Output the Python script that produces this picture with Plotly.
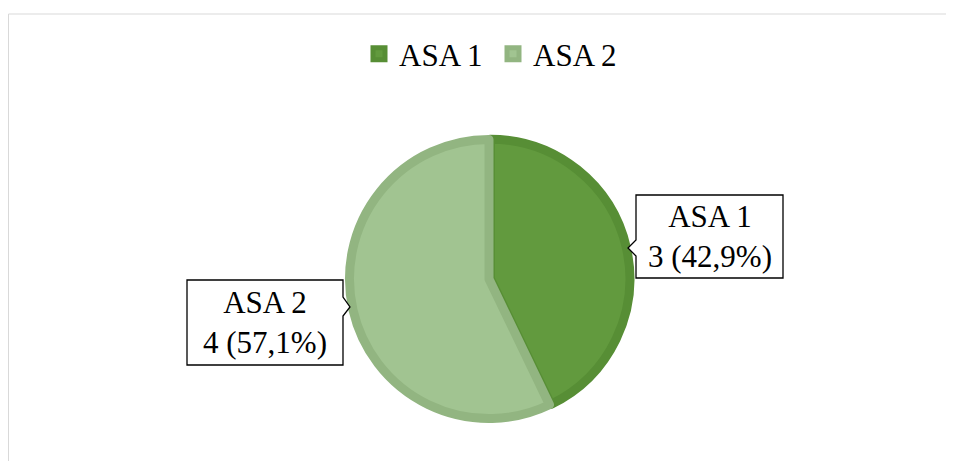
import plotly.graph_objects as go

# ---- data ----
labels = ["ASA 1", "ASA 2"]
values = [3, 4]
fill_colors = ["#629A3E", "#A1C491"]
line_colors = ["#578E35", "#92B581"]

OFF = 8  # page body margin
W, H = 954 - OFF, 469 - 2 * OFF
FONT = "Liberation Serif, Times New Roman, serif"


def px(x):
    return (x - OFF) / W


def py(y):
    return 1 - (y - OFF) / H


total = sum(values)
pcts = [v / total * 100 for v in values]
texts = [f"{l}<br>{v} ({p:.1f}%)".replace(".", ",") for l, v, p in zip(labels, values, pcts)]

pull = [0.01, 0]
cx, cy, r = 489, 279, 139.5
rr = r * (1 + max(pull))

fig = go.Figure(go.Pie(
    labels=labels,
    values=values,
    sort=False,
    direction="clockwise",
    rotation=0,
    pull=pull,
    textinfo="none",
    hoverinfo="label+value+percent",
    marker=dict(colors=fill_colors, line=dict(color=line_colors, width=9)),
    domain=dict(x=[px(cx - rr), px(cx + rr)], y=[py(cy + rr), py(cy - rr)]),
))

# chart border (cropped on right and bottom)
shapes = [dict(type="rect", xref="paper", yref="paper",
               x0=px(OFF + 0.5), x1=px(1000), y0=py(520), y1=py(14),
               line=dict(color="#D9D9D9", width=1), fillcolor="rgba(0,0,0,0)", layer="below")]


def callout_path(x0, y0, x1, y1, side, ny0, ntip, ny1):
    if side == "left":
        pts = [(x0, y0), (x1, y0), (x1, y1), (x0, y1), (x0, ny1), ntip, (x0, ny0)]
    else:
        pts = [(x0, y0), (x1, y0), (x1, ny0), ntip, (x1, ny1), (x1, y1), (x0, y1)]
    return "M " + " L ".join(f"{px(a):.5f},{py(b):.5f}" for a, b in pts) + " Z"


boxes = [
    dict(x0=636, y0=195, x1=783, y1=278, side="left", ny0=240, tip=(628, 248), ny1=256),
    dict(x0=187, y0=280, x1=343, y1=365, side="right", ny0=297, tip=(350, 307), ny1=316),
]
annotations = []
for b, t in zip(boxes, texts):
    shapes.append(dict(type="path", xref="paper", yref="paper",
                       path=callout_path(b["x0"], b["y0"], b["x1"], b["y1"], b["side"],
                                         b["ny0"], b["tip"], b["ny1"]),
                       line=dict(color="black", width=1.3), fillcolor="white"))
    annotations.append(dict(xref="paper", yref="paper",
                            x=px((b["x0"] + b["x1"]) / 2), y=py((b["y0"] + b["y1"]) / 2),
                            xanchor="center", yanchor="middle", showarrow=False,
                            text=t, align="center",
                            font=dict(family=FONT, size=31, color="black")))

fig.update_layout(
    width=W, height=H,
    margin=dict(l=0, r=0, t=0, b=0),
    paper_bgcolor="white",
    plot_bgcolor="white",
    showlegend=True,
    legend=dict(orientation="h", x=px(359), xanchor="left", y=py(54), yanchor="middle",
                font=dict(family=FONT, size=31, color="black"),
                itemwidth=30, entrywidth=89, entrywidthmode="pixels",
                traceorder="normal"),
    shapes=shapes,
    annotations=annotations,
)

fig.write_html("out.html")
